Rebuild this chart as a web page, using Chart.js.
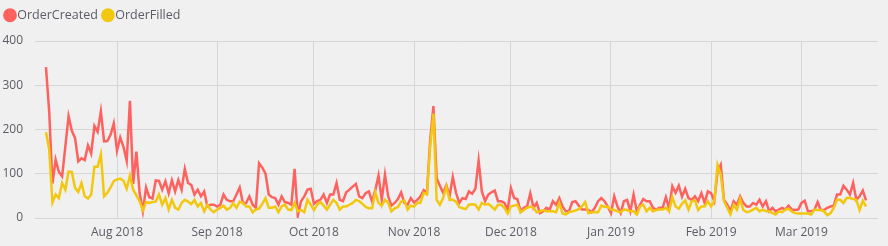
<!DOCTYPE html>
<html>
<head>
<meta charset="utf-8">
<script src="https://cdn.jsdelivr.net/npm/chart.js@4"></script>
<style>
  html, body { margin: 0; padding: 0; background: #f0f0f0; }
  #wrap { width: 888px; height: 246px; }
</style>
</head>
<body>
<div id="wrap"><canvas id="orders" width="888" height="246"></canvas></div>
<script>
// daily series, first day 10 Jul 2018
const firstDay = new Date(2018, 6, 10);
const seriesNames = ["OrderCreated", "OrderFilled"];
const orderCreated = [
  341, 240, 78, 132, 104, 94, 162, 230, 197, 181, 128, 135, 131, 164, 146, 208, 195, 241, 173, 174,
  188, 214, 152, 182, 161, 129, 265, 77, 150, 57, 15, 69, 47, 44, 85, 84, 64, 83, 56, 85,
  60, 86, 64, 111, 79, 75, 53, 64, 49, 60, 26, 30, 30, 26, 30, 53, 41, 38, 38, 53,
  69, 34, 34, 49, 30, 23, 124, 114, 100, 53, 47, 45, 30, 49, 36, 34, 30, 111, 5, 38,
  49, 64, 66, 32, 38, 41, 53, 34, 53, 53, 79, 41, 38, 58, 64, 71, 77, 49, 45, 56,
  60, 37, 63, 96, 41, 98, 49, 28, 34, 43, 58, 34, 30, 45, 35, 41, 49, 63, 57, 176,
  253, 90, 73, 57, 74, 49, 93, 57, 34, 45, 43, 60, 55, 66, 130, 60, 38, 53, 58, 62,
  38, 38, 34, 19, 68, 45, 43, 15, 23, 26, 56, 23, 34, 11, 15, 23, 19, 38, 30, 45,
  26, 15, 15, 36, 38, 28, 19, 19, 18, 13, 23, 38, 45, 38, 26, 11, 49, 26, 11, 38,
  41, 15, 53, 15, 30, 43, 38, 38, 23, 19, 23, 23, 47, 21, 72, 57, 73, 48, 66, 45,
  41, 49, 38, 56, 34, 60, 56, 38, 105, 120, 41, 30, 15, 38, 30, 49, 34, 26, 26, 34,
  30, 41, 26, 38, 15, 23, 15, 19, 23, 19, 28, 19, 18, 19, 34, 39, 15, 15, 18, 36,
  18, 18, 23, 26, 28, 53, 53, 73, 64, 53, 79, 41, 49, 62, 40
];
const orderFilled = [
  194, 155, 35, 53, 45, 79, 64, 105, 104, 68, 59, 79, 49, 44, 53, 116, 116, 144, 49, 57,
  69, 83, 87, 89, 84, 66, 96, 64, 51, 38, 17, 36, 34, 36, 37, 53, 30, 45, 19, 41,
  23, 19, 34, 41, 37, 31, 41, 26, 34, 15, 30, 19, 13, 19, 23, 28, 19, 23, 34, 23,
  37, 34, 26, 26, 13, 19, 21, 32, 45, 23, 23, 26, 13, 26, 30, 19, 18, 34, 15, 18,
  13, 41, 30, 18, 30, 36, 28, 19, 30, 41, 34, 19, 26, 26, 30, 34, 41, 38, 32, 25,
  22, 22, 58, 34, 28, 41, 34, 15, 22, 25, 37, 40, 19, 28, 26, 34, 35, 57, 53, 161,
  236, 41, 30, 45, 71, 41, 41, 37, 25, 22, 20, 30, 31, 30, 19, 34, 30, 32, 26, 19,
  30, 30, 23, 10, 26, 28, 30, 13, 18, 23, 26, 23, 13, 15, 18, 15, 15, 15, 13, 34,
  10, 8, 13, 15, 17, 20, 26, 36, 11, 13, 13, 13, 28, 25, 26, 19, 18, 15, 13, 19,
  18, 15, 15, 8, 26, 30, 15, 23, 15, 18, 19, 19, 23, 15, 47, 26, 21, 32, 40, 19,
  38, 40, 18, 26, 26, 38, 26, 38, 120, 98, 38, 23, 8, 30, 19, 43, 18, 13, 15, 19,
  23, 15, 19, 15, 15, 11, 8, 15, 13, 19, 21, 15, 11, 10, 10, 10, 10, 8, 19, 18,
  18, 15, 6, 11, 23, 41, 41, 34, 45, 45, 43, 41, 18, 39, 26
];
const yTicks = [0, 100, 200, 300, 400];
const monthNames = ["Jan", "Feb", "Mar", "Apr", "May", "Jun", "Jul", "Aug", "Sep", "Oct", "Nov", "Dec"];

const TEXT = "#5f5b66";
const GRID = "#d6d6d6";
const FONT = "'Open Sans', 'Noto Sans', sans-serif";

// day index -> date
function dayDate(i) {
  return new Date(firstDay.getFullYear(), firstDay.getMonth(), firstDay.getDate() + i);
}

// month starts inside the series become the x ticks
const monthTicks = [];
for (let i = 0; i < orderCreated.length; i++) {
  if (dayDate(i).getDate() === 1) monthTicks.push(i);
}

const toPoints = (arr) => arr.map((v, i) => ({ x: i, y: v }));

// a little room under the legend
const legendGap = {
  id: "legendGap",
  beforeInit(chart) {
    const fit = chart.legend.fit;
    chart.legend.fit = function () {
      fit.bind(chart.legend)();
      this.height += 9.5;
    };
  }
};

new Chart(document.getElementById("orders"), {
  type: "line",
  data: {
    datasets: [
      {
        label: seriesNames[0],
        data: toPoints(orderCreated),
        borderColor: "#fd625e",
        backgroundColor: "#fd625e",
        borderWidth: 2.5,
        pointRadius: 0,
        tension: 0,
        order: 1
      },
      {
        label: seriesNames[1],
        data: toPoints(orderFilled),
        borderColor: "#f2c80f",
        backgroundColor: "#f2c80f",
        borderWidth: 2.5,
        pointRadius: 0,
        tension: 0,
        order: 0
      }
    ]
  },
  options: {
    responsive: false,
    animation: false,
    parsing: false,
    layout: { autoPadding: false, padding: { left: 0, right: 10, top: 0, bottom: 0 } },
    scales: {
      x: {
        type: "linear",
        min: -3.4,
        max: orderCreated.length - 1 + 3.7,
        afterBuildTicks(scale) {
          scale.ticks = monthTicks.map((v) => ({ value: v }));
        },
        afterFit(scale) {
          scale.height = 28;
        },
        ticks: {
          color: TEXT,
          padding: 7,
          maxRotation: 0,
          autoSkip: false,
          font: { family: FONT, size: 12 },
          callback(value) {
            const d = dayDate(value);
            return monthNames[d.getMonth()] + " " + d.getFullYear();
          }
        },
        grid: { color: GRID, drawTicks: false, tickLength: 0 },
        border: { display: false }
      },
      y: {
        min: 0,
        max: 400,
        afterBuildTicks(scale) {
          scale.ticks = yTicks.map((v) => ({ value: v }));
        },
        afterFit(scale) {
          scale.width = 35;
        },
        ticks: {
          color: TEXT,
          padding: 12,
          font: { family: FONT, size: 12 }
        },
        grid: { color: GRID, drawTicks: false, tickLength: 0 },
        border: { display: false }
      }
    },
    plugins: {
      legend: {
        position: "top",
        align: "start",
        labels: {
          usePointStyle: true,
          pointStyle: "circle",
          boxWidth: 2,
          boxHeight: 8,
          padding: 9,
          color: TEXT,
          font: { family: FONT, size: 12.5 },
          sort: (a, b) => a.datasetIndex - b.datasetIndex
        }
      },
      tooltip: { enabled: false }
    }
  },
  plugins: [legendGap]
});
</script>
</body>
</html>
